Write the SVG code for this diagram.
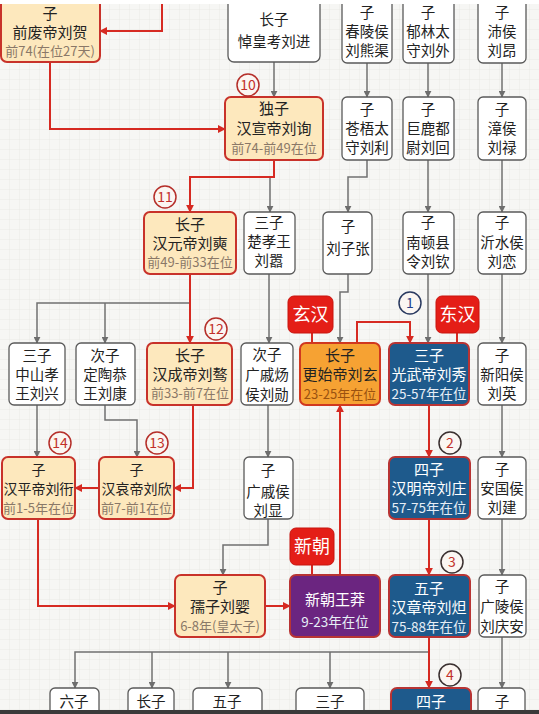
<svg xmlns="http://www.w3.org/2000/svg" width="539" height="714" viewBox="0 0 539 714">
<defs>
<pattern id="grid" width="10" height="10" patternUnits="userSpaceOnUse">
<rect width="10" height="10" fill="#f6f6f4"/>
<path d="M10,0 V10 H0" fill="none" stroke="#e4e4e2" stroke-width="0.8"/>
</pattern>
<marker id="ag" viewBox="0 0 10 10" refX="9" refY="5" markerWidth="7" markerHeight="7" markerUnits="userSpaceOnUse" orient="auto"><path d="M0,0 L10,5 L0,10 z" fill="#6e6e6e"/></marker>
<marker id="ar" viewBox="0 0 10 10" refX="9" refY="5" markerWidth="8" markerHeight="8" markerUnits="userSpaceOnUse" orient="auto"><path d="M0,0 L10,5 L0,10 z" fill="#d62a22"/></marker>
<style>
text{font-family:"Noto Sans CJK SC","Noto Sans",sans-serif;text-anchor:middle}
.w rect{fill:#fff;stroke:#5a5a5a;stroke-width:1.3}
.y rect{fill:#fde8bd;stroke:#c8322a;stroke-width:2}
.o rect{fill:#f6a233;stroke:#d0381f;stroke-width:2}
.b rect{fill:#1e5a8c;stroke:#b83434;stroke-width:2}
.p rect{fill:#6b2580;stroke:#b83434;stroke-width:2}
.t{font-size:15px;fill:#222}
.w .t{font-size:14.5px}
.n .t{font-size:14px}
.s{font-size:13px;fill:#8a7868}
.b .t,.p .t{fill:#fff}
.b .s,.p .s{fill:#e6eef6;font-size:13.5px}
.o .s{fill:#9a5210}
.lb rect{fill:#e41e17;stroke:#c8140f;stroke-width:1}
.lb text{font-size:18px;fill:#fff}
.gc{fill:none;stroke:#707070;stroke-width:1.5;marker-end:url(#ag)}
.rc{fill:none;stroke:#d62a22;stroke-width:2;marker-end:url(#ar)}
.rl{fill:none;stroke:#d62a22;stroke-width:2}
.num circle{fill:#fbf6f2;stroke:#b52f2a;stroke-width:1.5}
.num text{font-size:14px;fill:#c2302a}
</style>
</defs>
<rect width="539" height="714" fill="url(#grid)"/>

<g id="connectors">
<path class="gc" d="M274,62 V97"/>
<path class="gc" d="M367,63 V97"/>
<path class="gc" d="M428,63 V97"/>
<path class="gc" d="M502,63 V97"/>
<path class="gc" d="M270,177 V212"/>
<path class="gc" d="M367,160 V177 H348 V212"/>
<path class="gc" d="M428,160 V212"/>
<path class="gc" d="M502,160 V212"/>
<path class="gc" d="M190,303 H37 V343"/>
<path class="gc" d="M105,303 V343"/>
<path class="gc" d="M269,274 V343"/>
<path class="gc" d="M348,274 V292 H340 V343"/>
<path class="gc" d="M428,274 V343"/>
<path class="gc" d="M502,274 V343"/>
<path class="gc" d="M37,405 V457"/>
<path class="gc" d="M105,405 V420 H137 V457"/>
<path class="gc" d="M268,405 V457"/>
<path class="gc" d="M502,405 V457"/>
<path class="gc" d="M268,519 V545 H223 V575"/>
<path class="gc" d="M502,519 V575"/>
<path class="gc" d="M429,652 H75 V688"/>
<path class="gc" d="M152,652 V688"/>
<path class="gc" d="M228,652 V688"/>
<path class="gc" d="M330,652 V688"/>
<path class="gc" d="M502,637 V688"/>
<path class="rc" d="M162,4 V31 H100"/>
<path class="rc" d="M50,62 V129 H225"/>
<path class="rc" d="M274,160 V177 H190 V212"/>
<path class="rc" d="M190,274 V343"/>
<path class="rc" d="M357,343 V322 H410 V343"/>
<path class="rc" d="M193,405 V488 H174"/>
<path class="rc" d="M99,488 H75"/>
<path class="rc" d="M429,405 V457"/>
<path class="rc" d="M38,519 V606 H175"/>
<path class="rc" d="M265,606 H290"/>
<path class="rc" d="M340,575 V405"/>
<path class="rc" d="M429,519 V575"/>
<path class="rc" d="M429,637 V688"/>
<path class="rl" d="M312,333 V343 M457,333 V343 M312,565 V575"/>
</g>

<g id="n-liuhe" class="y"><rect x="1" y="-10" width="99" height="72" rx="6"/><text class="t" x="50" y="19">子</text><text class="t" x="50" y="38">前废帝刘贺</text><text class="s" x="50" y="56">前74(在位27天)</text></g>
<g id="n-liujin" class="w"><rect x="228" y="-10" width="92" height="72" rx="6"/><text class="t" x="274" y="25">长子</text><text class="t" x="274" y="47">悼皇考刘进</text></g>
<g id="n-xiongqu" class="w"><rect x="342" y="-10" width="50" height="73" rx="5"/><text class="t" x="367" y="18">子</text><text class="t" x="367" y="37">春陵侯</text><text class="t" x="367" y="56">刘熊渠</text></g>
<g id="n-liuwai" class="w"><rect x="403" y="-10" width="51" height="73" rx="5"/><text class="t" x="428" y="18">子</text><text class="t" x="428" y="37">郁林太</text><text class="t" x="428" y="56">守刘外</text></g>
<g id="n-liuang" class="w"><rect x="478" y="-10" width="48" height="73" rx="5"/><text class="t" x="502" y="18">子</text><text class="t" x="502" y="37">沛侯</text><text class="t" x="502" y="56">刘昂</text></g>

<g id="n-xuandi" class="y"><rect x="225" y="97" width="98" height="63" rx="6"/><text class="t" x="274" y="114">独子</text><text class="t" x="274" y="134">汉宣帝刘询</text><text class="s" x="274" y="153">前74-前49在位</text></g>
<g id="n-liuli" class="w"><rect x="342" y="97" width="50" height="63" rx="5"/><text class="t" x="367" y="115">子</text><text class="t" x="367" y="134">苍梧太</text><text class="t" x="367" y="153">守刘利</text></g>
<g id="n-liuhui" class="w"><rect x="403" y="97" width="51" height="63" rx="5"/><text class="t" x="428" y="115">子</text><text class="t" x="428" y="134">巨鹿都</text><text class="t" x="428" y="153">尉刘回</text></g>
<g id="n-liulu" class="w"><rect x="478" y="97" width="48" height="63" rx="5"/><text class="t" x="502" y="115">子</text><text class="t" x="502" y="134">漳侯</text><text class="t" x="502" y="153">刘禄</text></g>

<g id="n-yuandi" class="y"><rect x="144" y="212" width="92" height="62" rx="6"/><text class="t" x="190" y="230">长子</text><text class="t" x="190" y="249">汉元帝刘奭</text><text class="s" x="190" y="267">前49-前33在位</text></g>
<g id="n-liuxiao" class="w"><rect x="244" y="212" width="51" height="62" rx="5"/><text class="t" x="269" y="228">三子</text><text class="t" x="269" y="247">楚孝王</text><text class="t" x="269" y="266">刘嚣</text></g>
<g id="n-liuzizhang" class="w"><rect x="323" y="212" width="49" height="62" rx="5"/><text class="t" x="348" y="232">子</text><text class="t" x="348" y="254">刘子张</text></g>
<g id="n-liuqin" class="w"><rect x="403" y="212" width="51" height="62" rx="5"/><text class="t" x="428" y="228">子</text><text class="t" x="428" y="248">南顿县</text><text class="t" x="428" y="267">令刘钦</text></g>
<g id="n-liulian" class="w"><rect x="478" y="212" width="48" height="62" rx="5"/><text class="t" x="502" y="228">子</text><text class="t" x="502" y="248">沂水侯</text><text class="t" x="502" y="267">刘恋</text></g>

<g id="n-liuxing" class="w"><rect x="9" y="343" width="56" height="62" rx="5"/><text class="t" x="37" y="361">三子</text><text class="t" x="37" y="380">中山孝</text><text class="t" x="37" y="399">王刘兴</text></g>
<g id="n-liukang" class="w"><rect x="76" y="343" width="59" height="62" rx="5"/><text class="t" x="105" y="361">次子</text><text class="t" x="105" y="380">定陶恭</text><text class="t" x="105" y="399">王刘康</text></g>
<g id="n-chengdi" class="y"><rect x="147" y="343" width="85" height="62" rx="6"/><text class="t" x="190" y="361">长子</text><text class="t" x="190" y="380">汉成帝刘骜</text><text class="s" x="190" y="398">前33-前7在位</text></g>
<g id="n-liuxun" class="w"><rect x="241" y="343" width="52" height="62" rx="5"/><text class="t" x="267" y="360">次子</text><text class="t" x="267" y="380">广戚炀</text><text class="t" x="267" y="400">侯刘勋</text></g>
<g id="n-liuxuan" class="o"><rect x="300" y="343" width="80" height="62" rx="6"/><text class="t" x="340" y="361">长子</text><text class="t" x="340" y="380">更始帝刘玄</text><text class="s" x="340" y="399">23-25年在位</text></g>
<g id="n-liuxiu" class="b"><rect x="389" y="343" width="80" height="62" rx="6"/><text class="t" x="429" y="361">三子</text><text class="t" x="429" y="380">光武帝刘秀</text><text class="s" x="429" y="399">25-57年在位</text></g>
<g id="n-liuying" class="w"><rect x="478" y="343" width="48" height="62" rx="5"/><text class="t" x="502" y="361">子</text><text class="t" x="502" y="380">新阳侯</text><text class="t" x="502" y="399">刘英</text></g>

<g id="n-pingdi" class="y n"><rect x="2" y="457" width="73" height="62" rx="6"/><text class="t" x="38.5" y="475">子</text><text class="t" x="38.5" y="494">汉平帝刘衎</text><text class="s" x="38.5" y="513">前1-5年在位</text></g>
<g id="n-aidi" class="y n"><rect x="99" y="457" width="75" height="62" rx="6"/><text class="t" x="136.5" y="475">子</text><text class="t" x="136.5" y="494">汉哀帝刘欣</text><text class="s" x="136.5" y="513">前7-前1在位</text></g>
<g id="n-liuxian" class="w"><rect x="244" y="457" width="49" height="62" rx="5"/><text class="t" x="268" y="476">子</text><text class="t" x="268" y="497">广戚侯</text><text class="t" x="268" y="516">刘显</text></g>
<g id="n-mingdi" class="b"><rect x="389" y="457" width="81" height="62" rx="6"/><text class="t" x="429" y="475">四子</text><text class="t" x="429" y="494">汉明帝刘庄</text><text class="s" x="429" y="513">57-75年在位</text></g>
<g id="n-liujian" class="w"><rect x="478" y="457" width="48" height="62" rx="5"/><text class="t" x="502" y="475">子</text><text class="t" x="502" y="494">安国侯</text><text class="t" x="502" y="513">刘建</text></g>

<g id="n-ruzi" class="y"><rect x="175" y="575" width="90" height="62" rx="6"/><text class="t" x="220" y="593">子</text><text class="t" x="220" y="612">孺子刘婴</text><text class="s" x="220" y="631">6-8年(皇太子)</text></g>
<g id="n-wangmang" class="p"><rect x="290" y="575" width="90" height="62" rx="6"/><text class="t" x="335" y="605">新朝王莽</text><text class="s" x="335" y="627">9-23年在位</text></g>
<g id="n-zhangdi" class="b"><rect x="389" y="575" width="81" height="62" rx="6"/><text class="t" x="429" y="594">五子</text><text class="t" x="429" y="613">汉章帝刘炟</text><text class="s" x="429" y="632">75-88年在位</text></g>
<g id="n-qingan" class="w"><rect x="479" y="575" width="47" height="62" rx="5"/><text class="t" x="502" y="592">子</text><text class="t" x="502" y="612">广陵侯</text><text class="t" x="502" y="632">刘庆安</text></g>

<g id="n-b1" class="w"><rect x="50" y="688" width="49" height="40" rx="5"/><text class="t" x="74" y="707">六子</text></g>
<g id="n-b2" class="w"><rect x="128" y="688" width="46" height="40" rx="5"/><text class="t" x="151" y="707">长子</text></g>
<g id="n-b3" class="w"><rect x="193" y="688" width="69" height="40" rx="5"/><text class="t" x="227" y="707">五子</text></g>
<g id="n-b4" class="w"><rect x="296" y="688" width="68" height="40" rx="5"/><text class="t" x="330" y="707">三子</text></g>
<g id="n-b5" class="b"><rect x="391" y="688" width="80" height="40" rx="6"/><text class="t" x="431" y="707">四子</text></g>
<g id="n-b6" class="w"><rect x="478" y="688" width="47" height="40" rx="5"/><text class="t" x="502" y="707">子</text></g>

<g id="lb-xuanhan" class="lb"><rect x="288" y="296" width="45" height="37" rx="6"/><text x="310.5" y="321">玄汉</text></g>
<g id="lb-donghan" class="lb"><rect x="436" y="296" width="43" height="37" rx="6"/><text x="457.5" y="321">东汉</text></g>
<g id="lb-xinchao" class="lb"><rect x="290" y="528" width="44" height="37" rx="6"/><text x="312" y="553">新朝</text></g>

<g id="nums" class="num">
<circle cx="248" cy="85" r="11"/><text x="248" y="90">10</text>
<circle cx="165" cy="197" r="11"/><text x="165" y="202">11</text>
<circle cx="216" cy="329" r="11"/><text x="216" y="334">12</text>
<circle cx="157" cy="443" r="11"/><text x="157" y="448">13</text>
<circle cx="60" cy="443" r="11"/><text x="60" y="448">14</text>
<circle cx="410" cy="303" r="11" style="stroke:#2a3a60"/><text x="410" y="308" style="fill:#25408a">1</text>
<circle cx="450" cy="443" r="11" style="stroke:#3a3030"/><text x="450" y="448">2</text>
<circle cx="452" cy="562" r="11" style="stroke:#3a3030"/><text x="452" y="567">3</text>
<circle cx="450" cy="675" r="11" style="stroke:#3a3030"/><text x="450" y="680">4</text>
</g>

<rect x="0" y="0" width="539" height="4" fill="#ffffff"/>
<rect x="0" y="710" width="539" height="4" fill="#3a3a3a"/>
</svg>
